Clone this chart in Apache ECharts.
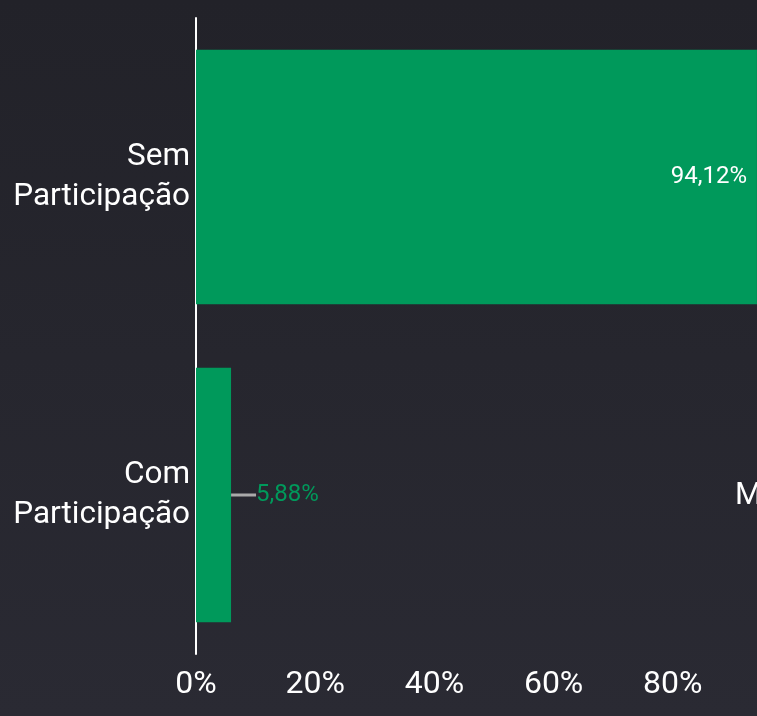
<!DOCTYPE html>
<html>
<head>
<meta charset="utf-8">
<script src="https://cdn.jsdelivr.net/npm/echarts@6/dist/echarts.min.js"></script>
<style>
  html, body { margin: 0; padding: 0; overflow: hidden; background: #25252d; }
  #chart { width: 900px; height: 716px; }
</style>
</head>
<body>
<div id="chart"></div>
<script>
var categories = ['Sem Participação', 'Com Participação'];
var percentages = [94.12, 5.88];
var labelText = ['94,12%', '5,88%'];
var tickMax = 100;
var tickStep = 20;

var myChart = echarts.init(document.getElementById('chart'));

var option = {
  backgroundColor: new echarts.graphic.LinearGradient(0, 0, 0, 1, [
    { offset: 0, color: '#222229' },
    { offset: 1, color: '#2a2a33' }
  ]),
  textStyle: { fontFamily: 'Roboto' },
  grid: { left: 196, right: 108, top: 18, bottom: 62 },
  xAxis: {
    type: 'value',
    min: 0,
    max: tickMax,
    interval: tickStep,
    axisLine: { show: false },
    axisTick: { show: false },
    splitLine: { show: false },
    axisLabel: {
      color: '#ffffff',
      fontSize: 32,
      margin: 15,
      showMaxLabel: false,
      formatter: '{value}%'
    }
  },
  yAxis: {
    type: 'category',
    inverse: true,
    data: categories,
    axisLine: { show: true, lineStyle: { color: '#ffffff', width: 2 } },
    axisTick: { show: false },
    axisLabel: {
      color: '#ffffff',
      fontSize: 31.5,
      lineHeight: 40,
      margin: 6,
      padding: [4, 0, 0, 0],
      formatter: function (v) { return v.replace(' ', '\n'); }
    }
  },
  series: [{
    type: 'bar',
    barCategoryGap: '20%',
    itemStyle: { color: '#00995b' },
    data: percentages.map(function (v, i) {
      if (i === 0) {
        return {
          value: v,
          label: { position: 'insideRight', distance: 10, color: '#ffffff' }
        };
      }
      return {
        value: v,
        label: { position: 'right', distance: 0, color: '#00995b' },
        labelLine: { show: true, lineStyle: { color: '#aaaaaa', width: 3 } }
      };
    }),
    label: {
      show: true,
      fontSize: 24,
      formatter: function (p) { return labelText[p.dataIndex]; }
    },
    labelLayout: function (p) {
      return p.dataIndex === 1 ? { dx: 25 } : {};
    },
    labelLine: { show: false }
  }],
  graphic: [{
    type: 'text',
    left: 735,
    top: 481,
    style: { text: 'M', fill: '#ffffff', fontSize: 31, fontFamily: 'Roboto' }
  }]
};

myChart.setOption(option);
</script>
</body>
</html>
